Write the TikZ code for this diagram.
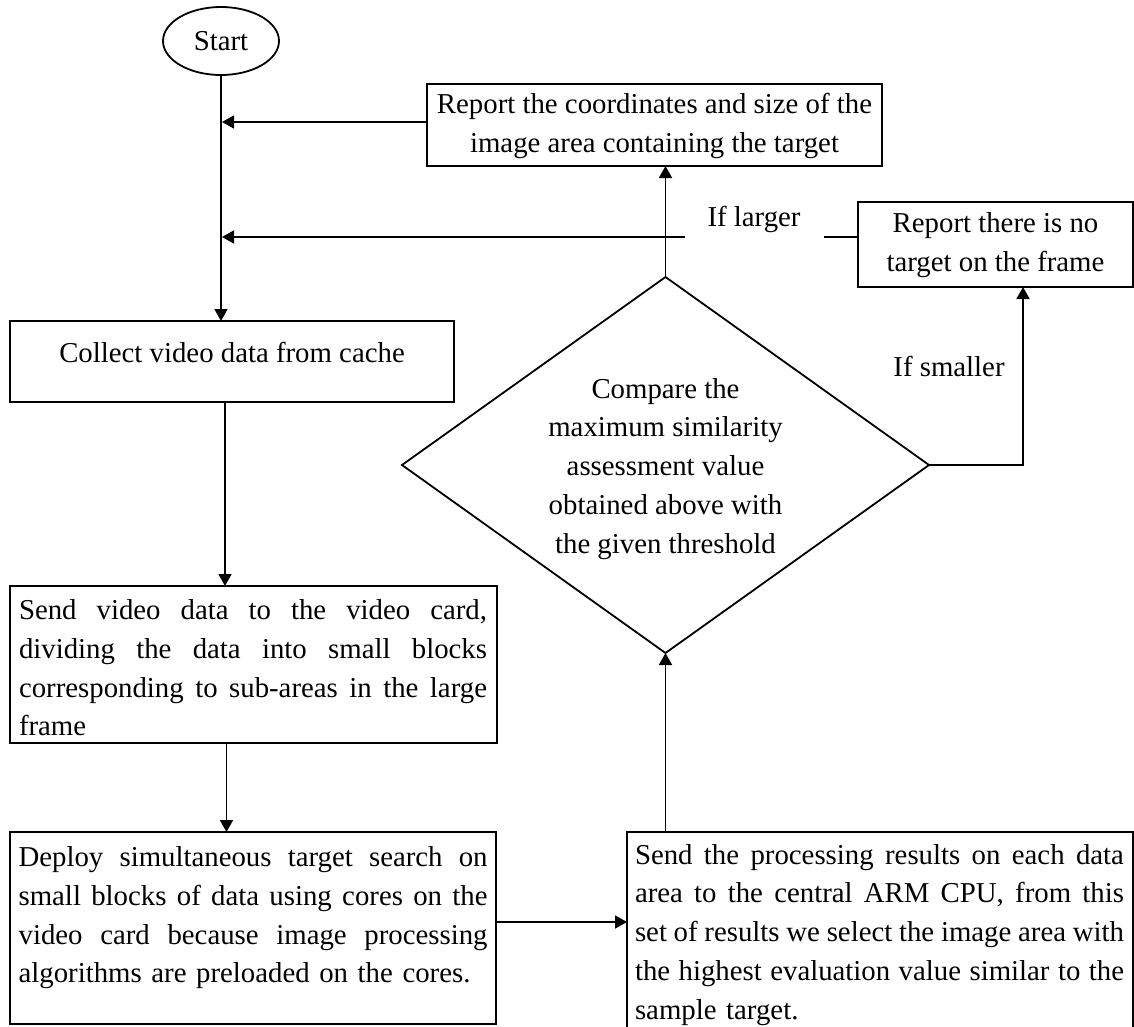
\documentclass[tikz,border=0pt]{standalone}
\usepackage{fontspec}
\setmainfont{Liberation Serif}
\usetikzlibrary{arrows.meta,shapes.geometric}
\newcommand{\jl}[2]{\makebox[#1][s]{\spaceskip=0.25em plus 1em minus 0.1em\relax #2}}
\begin{document}
\begin{tikzpicture}[x=1pt,y=-1pt,
  line width=1.8pt,
  every node/.style={font=\fontsize{28.8}{38.8}\selectfont},
  boxs/.style={draw, rectangle, inner sep=0pt, outer sep=0pt},
  txt/.style={inner sep=0pt, outer sep=0pt},
  arr/.style={-{Triangle[length=12pt,width=13pt]}, line width=1.8pt},
  ]
\useasboundingbox (0,0) rectangle (1134,1026);

% nodes
\node[draw, ellipse, minimum width=116pt, minimum height=68pt, inner sep=0pt, outer sep=0pt] (start) at (221,41) {Start};

\node[boxs, minimum width=444pt, minimum height=81pt] (collect) at (232,361.5) {};
\node[txt] (collecttxt) at (232,355) {\strut Collect video data from cache};

\node[boxs, minimum width=455pt, minimum height=82pt, align=center] (rep1) at (654.5,125)
  {\strut Report the coordinates and size of the\\ image area containing the target\strut};

\node[boxs, minimum width=275pt, minimum height=85pt, align=center] (rep2) at (995.5,244.5)
  {\strut Report there is no\\ target on the frame\strut};

\node[draw, diamond, minimum width=527pt, minimum height=376pt, inner sep=0pt, outer sep=0pt] (dia) at (665.5,465) {};
\node[txt, align=center] (diatxt) at (665.5,468)
  {\strut Compare the\\ maximum similarity\\ assessment value\\ obtained above with\\ the given threshold\strut};

\node[boxs, minimum width=487pt, minimum height=157pt] (send) at (253.5,664.5) {};
\node[txt, text width=468pt, align=left, anchor=west] (sendtxt) at (19,670)
  {\noindent\jl{468pt}{\strut Send video data to the video card,}\\
   \jl{468pt}{dividing the data into small blocks}\\
   \jl{468pt}{corresponding to sub-areas in the large}\\
   frame\strut};

\node[boxs, minimum width=486pt, minimum height=192pt] (deploy) at (253,928) {};
\node[txt, text width=469pt, align=left, anchor=west] (deploytxt) at (18.6,917)
  {\noindent\jl{469pt}{\strut Deploy simultaneous target search on}\\
   \jl{469pt}{small blocks of data using cores on the}\\
   \jl{469pt}{video card because image processing}\\
   algorithms are preloaded on the cores.\strut};

\node[boxs, minimum width=506pt, minimum height=208pt] (results) at (880,936) {};
\node[txt, text width=489pt, align=left, anchor=west] (resultstxt) at (635,934)
  {\noindent\jl{489pt}{\strut Send the processing results on each data}\\
   \jl{489pt}{area to the central ARM CPU, from this}\\
   \jl{489pt}{set of results we select the image area with}\\
   \jl{489pt}{the highest evaluation value similar to the}\\
   sample target.\strut};

\node[txt] (larger) at (754,219) {\strut If larger};
\node[txt] (smaller) at (949,369) {\strut If smaller};

% helper coordinates
\coordinate (y1) at (0,122);
\coordinate (y2) at (0,237);
\coordinate (y3) at (0,922);
\coordinate (gapR) at (824,237);
\coordinate (gapL) at (685,237);
\coordinate (xs) at (1023,0);

% connectors
\draw[arr] (start.south) -- (start.south |- collect.north);
\draw[arr, shorten >=1pt] (rep1.west |- y1) -- (start.south |- y1);
\draw[arr] (dia.north) -- (dia.north |- rep1.south);
\draw (rep2.west |- y2) -- (gapR);
\draw[arr, shorten >=1pt] (gapL) -- (start.south |- y2);
\draw[arr] (dia.east) -| (xs |- rep2.south);
\draw[arr] ([xshift=-7pt]collect.south) -- ([xshift=-7pt]collect.south |- send.north);
\draw[arr] ([xshift=-27pt]send.south) -- ([xshift=-27pt]send.south |- deploy.north);
\draw[arr] (deploy.east |- y3) -- (results.west |- y3);
\draw[arr] (dia.south |- results.north) -- (dia.south);
\end{tikzpicture}
\end{document}
